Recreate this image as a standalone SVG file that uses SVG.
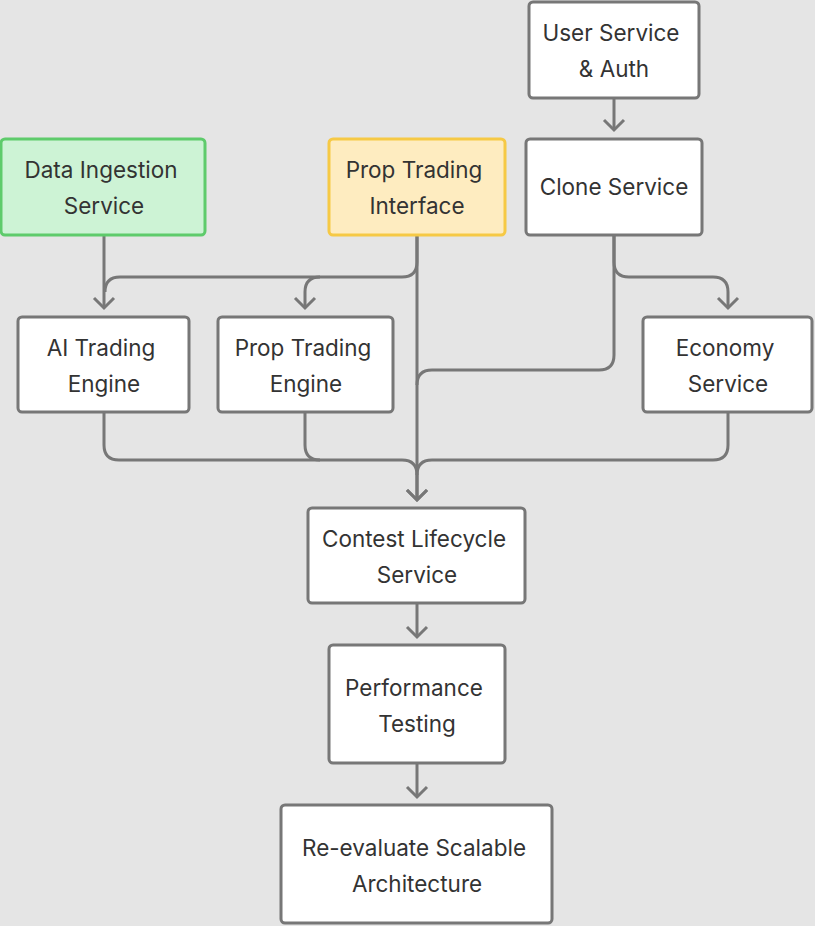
<svg xmlns="http://www.w3.org/2000/svg" width="815" height="926" viewBox="0 0 815 926">
<style>
.n rect{fill:#fff;stroke:#777;stroke-width:3}
text{font-family:Inter,"Liberation Sans",sans-serif;font-size:22.5px;fill:#333;text-anchor:middle}
.c path{fill:none;stroke:#777;stroke-width:3}
</style>
<defs><marker id="a" viewBox="0 0 20 24" refX="13" refY="12" markerWidth="20" markerHeight="24" markerUnits="userSpaceOnUse" orient="auto"><path d="M3,2 L13,12 L3,22" fill="none" stroke="#777" stroke-width="3"/></marker></defs>
<rect width="815" height="926" fill="#e5e5e5"/>
<g class="c">
<path d="M614,98 V130" marker-end="url(#a)"/>
<path d="M104,235 V308" marker-end="url(#a)"/>
<path d="M417,235 V262 Q417,277 402,277 H320 Q305,277 305,292 V308" marker-end="url(#a)"/>
<path d="M320,277 H120 Q105,277 105,292"/>
<path d="M417,235 V500" marker-end="url(#a)"/>
<path d="M614,235 V355 Q614,370 599,370 H432 Q417,370 417,385"/>
<path d="M614,235 V262 Q614,277 629,277 H713 Q728,277 728,292 V308" marker-end="url(#a)"/>
<path d="M104,412 V445 Q104,460 119,460 H402 Q417,460 417,475 V500" marker-end="url(#a)"/>
<path d="M305,412 V445 Q305,460 320,460"/>
<path d="M728,412 V445 Q728,460 713,460 H432 Q417,460 417,475"/>
<path d="M417,603 V637" marker-end="url(#a)"/>
<path d="M417,763 V797" marker-end="url(#a)"/>
</g>
<g id="user" class="n"><rect x="529" y="2" width="170" height="96" rx="4"/><text x="611" y="41">User Service</text><text x="614" y="77">&amp; Auth</text></g>
<g id="clone" class="n"><rect x="526" y="139" width="176" height="96" rx="4"/><text x="614" y="195">Clone Service</text></g>
<g id="data" class="n"><rect x="1" y="139" width="204" height="96" rx="4" style="fill:#cdf3d5;stroke:#5ecb6b"/><text x="101" y="178">Data Ingestion</text><text x="104" y="214">Service</text></g>
<g id="pti" class="n"><rect x="329" y="139" width="176" height="96" rx="4" style="fill:#feecc0;stroke:#f6c945"/><text x="414" y="178">Prop Trading</text><text x="417" y="214">Interface</text></g>
<g id="ai" class="n"><rect x="18" y="317" width="171" height="95" rx="4"/><text x="101" y="356">AI Trading</text><text x="104" y="392">Engine</text></g>
<g id="pte" class="n"><rect x="218" y="317" width="175" height="95" rx="4"/><text x="303" y="356">Prop Trading</text><text x="306" y="392">Engine</text></g>
<g id="eco" class="n"><rect x="643" y="317" width="169" height="95" rx="4"/><text x="725" y="356">Economy</text><text x="728" y="392">Service</text></g>
<g id="contest" class="n"><rect x="308" y="508" width="217" height="95" rx="4"/><text x="414" y="547">Contest Lifecycle</text><text x="417" y="583">Service</text></g>
<g id="perf" class="n"><rect x="329" y="645" width="176" height="118" rx="4"/><text x="414" y="696">Performance</text><text x="417" y="732">Testing</text></g>
<g id="reeval" class="n"><rect x="281" y="805" width="271" height="118" rx="4"/><text x="414" y="856">Re-evaluate Scalable</text><text x="417" y="892">Architecture</text></g>
</svg>
